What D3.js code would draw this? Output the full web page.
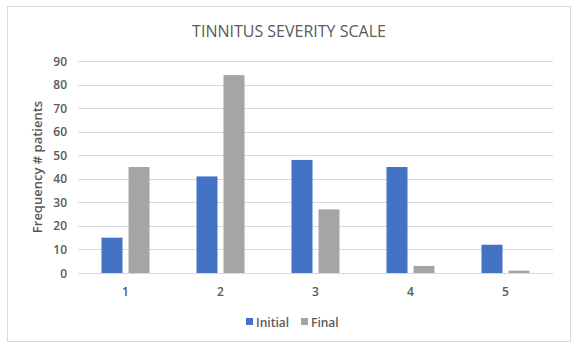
<!DOCTYPE html>
<html><head><meta charset="utf-8">
<script src="https://cdn.jsdelivr.net/npm/d3@7"></script>
<style>body{margin:0;background:#fff;} svg{display:block;font-family:"Open Sans","Liberation Sans",sans-serif;}</style>
</head><body>
<svg id="c" width="578" height="352"></svg>
<script>
const categories = ["1","2","3","4","5"];
const seriesNames = ["Initial","Final"];
const initialValues = [15,41,48,45,12];
const finalValues = [45,84,27,3,1];
const yTicks = [0,10,20,30,40,50,60,70,80,90];
const colors = ["#4472C4","#A5A5A5"];

const svg = d3.select("#c");
svg.append("rect").attr("x",7.5).attr("y",6.5).attr("width",563).attr("height",335)
  .attr("fill","#fff").attr("stroke","#D9D9D9");

const m = {left:78, right:553, top:61, bottom:273};
const x = d3.scaleBand().domain(categories).range([m.left,m.right]);
const y = d3.scaleLinear().domain([0,90]).range([m.bottom,m.top]);

svg.append("text").attr("x",289).attr("y",37).attr("text-anchor","middle")
  .attr("font-size",16).attr("fill","#595959").text("TINNITUS SEVERITY SCALE");

// grid
svg.append("g").selectAll("line").data(yTicks).join("line")
  .attr("x1",m.left).attr("x2",m.right)
  .attr("y1",d=>Math.round(y(d))+0.5).attr("y2",d=>Math.round(y(d))+0.5)
  .attr("stroke","#D9D9D9").attr("stroke-width",1);

// y tick labels
svg.append("g").selectAll("text").data(yTicks).join("text")
  .attr("x",67).attr("y",d=>y(d)+4.5).attr("text-anchor","end")
  .attr("font-size",12).attr("font-weight",600).attr("fill","#595959").text(d=>d);

// x labels
svg.append("g").selectAll("text").data(categories).join("text")
  .attr("x",d=>x(d)+x.bandwidth()/2).attr("y",296).attr("text-anchor","middle")
  .attr("font-size",12).attr("font-weight",600).attr("fill","#595959").text(d=>d);

// y axis title
svg.append("text").attr("transform","translate(42,167) rotate(-90)").attr("text-anchor","middle")
  .attr("font-size",13).attr("font-weight",600).attr("fill","#595959").text("Frequency # patients");

const barW = 21, gap = 6;
const sub = d3.scaleOrdinal().domain(seriesNames).range([-(barW+gap)/2 - barW/2, (barW+gap)/2 - barW/2]);
const series = [initialValues, finalValues];
series.forEach((vals,si)=>{
  svg.append("g").selectAll("rect").data(vals).join("rect")
    .attr("x",(d,i)=>x(categories[i])+x.bandwidth()/2+sub(seriesNames[si]))
    .attr("y",d=>y(d)).attr("width",barW).attr("height",d=>y(0)-y(d))
    .attr("fill",colors[si]);
});

// legend
const lg = svg.append("g");
const legendX = [246,301];
seriesNames.forEach((n,i)=>{
  lg.append("rect").attr("x",legendX[i]).attr("y",318).attr("width",7).attr("height",7).attr("fill",colors[i]);
  lg.append("text").attr("x",legendX[i]+10).attr("y",326.5).attr("font-size",12).attr("font-weight",600)
    .attr("fill","#595959").text(n);
});
</script>
</body></html>
